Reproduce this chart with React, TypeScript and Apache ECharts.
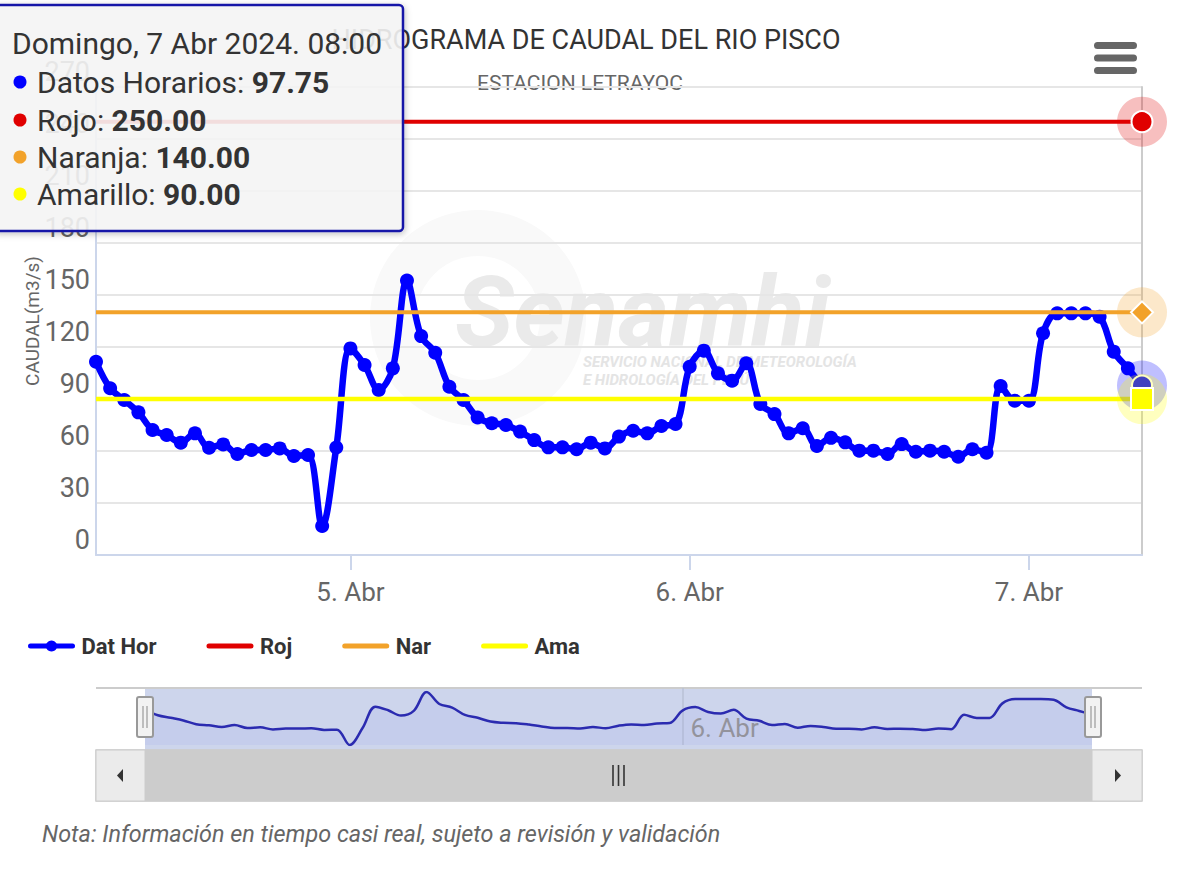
import React, { useEffect, useRef } from "react";
import * as echarts from "echarts";

const FONT = "Roboto, 'Noto Sans', sans-serif";
const HOUR_MS = 3600 * 1000;
const START_TIME = Date.UTC(2024, 3, 4, 6, 0, 0);

// Hourly discharge (m3/s), 4 Abr 06:00 .. 7 Abr 08:00
const datosHorarios: number[] = [
  111.5, 96.2, 89.4, 82.3, 72.1, 69.2, 64.8, 70.2, 61.9, 63.8,
  58.3, 60.6, 60.6, 61.5, 57.1, 57.7, 16.7, 62.0, 119.2, 109.6,
  95.2, 107.7, 158.3, 126.3, 116.7, 97.1, 89.4, 79.3, 76.0, 75.0,
  71.2, 66.3, 62.1, 62.1, 61.0, 64.8, 61.5, 68.3, 71.7, 70.2,
  74.4, 75.6, 108.6, 117.9, 104.8, 100.6, 110.6, 87.1, 81.3, 70.2,
  73.1, 62.9, 67.6, 65.0, 60.2, 60.2, 58.3, 64.0, 59.6, 60.2,
  59.6, 56.7, 61.0, 59.0, 97.5, 89.0, 89.0, 127.9, 139.4, 139.4,
  139.4, 137.5, 117.3, 107.7, 97.75,
];
const horas: number[] = datosHorarios.map((_, i) => START_TIME + i * HOUR_MS);

const umbralRojo = 250;
const umbralNaranja = 140;
const umbralAmarillo = 90;

const dayTicks: number[] = [Date.UTC(2024, 3, 5), Date.UTC(2024, 3, 6), Date.UTC(2024, 3, 7)];
const navigatorTicks: number[] = [Date.UTC(2024, 3, 6)];
const yMin = 0;
const yMax = 270;
const yInterval = 30;

const dias = ["Domingo", "Lunes", "Martes", "Miércoles", "Jueves", "Viernes", "Sábado"];
const meses = ["Ene", "Feb", "Mar", "Abr", "May", "Jun", "Jul", "Ago", "Set", "Oct", "Nov", "Dic"];

const seriesNames = ["Datos Horarios", "Rojo", "Naranja", "Amarillo"];
const legendNames = ["Dat Hor", "Roj", "Nar", "Ama"];
const colors = ["#0000ff", "#e00000", "#f2a22a", "#ffff00"];

const pad2 = (n: number) => (n < 10 ? "0" + n : "" + n);
const dayLabel = (v: number) => {
  const d = new Date(v);
  return `${d.getUTCDate()}. ${meses[d.getUTCMonth()]}`;
};

export default function App() {
  const ref = useRef<HTMLDivElement | null>(null);

  useEffect(() => {
    document.body.style.margin = "0";
    if (!ref.current) return;
    const chart = echarts.init(ref.current, null, { renderer: "svg" });

    const last = horas.length - 1;
    const tLast = horas[last];
    const dLast = new Date(tLast);
    const header = `${dias[dLast.getUTCDay()]}, ${dLast.getUTCDate()} ${meses[dLast.getUTCMonth()]} ${dLast.getUTCFullYear()}. ${pad2(dLast.getUTCHours())}:${pad2(dLast.getUTCMinutes())}`;
    const tipValues = [datosHorarios[last], umbralRojo, umbralNaranja, umbralAmarillo];

    const lineOf = (v: number) => horas.map((t) => [t, v]);
    const mainData = horas.map((t, i) => [t, datosHorarios[i]]);

    const halo = (name: string, value: number, color: string) => ({
      type: "scatter",
      name,
      xAxisIndex: 0,
      yAxisIndex: 0,
      silent: true,
      symbol: "circle",
      symbolSize: 50,
      data: [[tLast, value]],
      itemStyle: { color, opacity: 1 },
      z: 5,
    });
    const marker = (name: string, value: number, symbol: string, size: number, color: string) => ({
      type: "scatter",
      name,
      xAxisIndex: 0,
      yAxisIndex: 0,
      silent: true,
      symbol,
      symbolSize: size,
      data: [[tLast, value]],
      itemStyle: { color, borderColor: "#ffffff", borderWidth: 2, opacity: 1 },
      z: 5,
    });

    const TZ = 100;
    const tipLineY = [82, 120, 157, 194];
    const tooltipChildren: any[] = [
      {
        type: "rect",
        z: TZ,
        shape: { x: -6, y: 5, width: 409, height: 226, r: 4 },
        style: {
          fill: "rgba(247,247,247,0.88)",
          stroke: "#1818a8",
          lineWidth: 2.5,
          shadowBlur: 6,
          shadowOffsetX: 1,
          shadowOffsetY: 2,
          shadowColor: "rgba(0,0,0,0.25)",
        },
      },
      {
        type: "text",
        z: TZ + 1,
        x: 12,
        y: 43,
        style: {
          text: header,
          font: `30px ${FONT}`,
          fill: "#333333",
          textVerticalAlign: "middle",
          verticalAlign: "middle",
        },
      },
    ];
    seriesNames.forEach((n, i) => {
      tooltipChildren.push({
        type: "circle",
        z: TZ + 1,
        shape: { cx: 20, cy: tipLineY[i], r: 6.5 },
        style: { fill: colors[i] },
      });
      tooltipChildren.push({
        type: "text",
        z: TZ + 1,
        x: 37,
        y: tipLineY[i],
        style: {
          text: `{n|${n}: }{v|${tipValues[i].toFixed(2)}}`,
          textVerticalAlign: "middle",
          verticalAlign: "middle",
          rich: {
            n: { fontSize: 30, fontFamily: FONT, fill: "#333333", color: "#333333" },
            v: { fontSize: 30, fontFamily: FONT, fontWeight: "bold", fill: "#333333", color: "#333333" },
          },
        },
      });
    });

    const graphics: any[] = [
      // watermark
      {
        type: "ring",
        z: -2,
        silent: true,
        shape: { cx: 478, cy: 318, r: 108, r0: 62 },
        style: { fill: "#f9f9f9" },
      },
      {
        type: "text",
        z: -1,
        silent: true,
        x: 455,
        y: 312,
        style: {
          text: "Senamhi",
          font: `italic bold 98px ${FONT}`,
          fill: "#eaeaea",
          textVerticalAlign: "middle",
          verticalAlign: "middle",
        },
      },
      {
        type: "text",
        z: -1,
        silent: true,
        x: 583,
        y: 362,
        style: {
          text: "SERVICIO NACIONAL DE METEOROLOGÍA",
          font: `italic bold 15px ${FONT}`,
          fill: "#e4e4e4",
          textVerticalAlign: "middle",
          verticalAlign: "middle",
        },
      },
      {
        type: "text",
        z: -1,
        silent: true,
        x: 583,
        y: 380,
        style: {
          text: "E HIDROLOGÍA DEL PERÚ",
          font: `italic bold 15px ${FONT}`,
          fill: "#e4e4e4",
          textVerticalAlign: "middle",
          verticalAlign: "middle",
        },
      },
      // titles
      {
        type: "text",
        x: 586,
        y: 40,
        style: {
          text: "HIDROGRAMA DE CAUDAL DEL RIO PISCO",
          font: `27px ${FONT}`,
          fill: "#333333",
          textAlign: "center",
          align: "center",
          textVerticalAlign: "middle",
          verticalAlign: "middle",
        },
      },
      {
        type: "text",
        x: 580,
        y: 83,
        style: {
          text: "ESTACION LETRAYOC",
          font: `21px ${FONT}`,
          fill: "#666666",
          textAlign: "center",
          align: "center",
          textVerticalAlign: "middle",
          verticalAlign: "middle",
        },
      },
      // menu icon
      ...[42, 54.5, 67].map((y) => ({
        type: "rect",
        shape: { x: 1094, y, width: 43, height: 7, r: 3.5 },
        style: { fill: "#666666" },
      })),
      // navigator mask and outline
      {
        type: "rect",
        z: -1,
        silent: true,
        shape: { x: 145, y: 688, width: 947, height: 62 },
        style: { fill: "#cdd5ec" },
      },
      {
        type: "line",
        shape: { x1: 96, y1: 688, x2: 1142, y2: 688 },
        style: { stroke: "#cccccc", lineWidth: 2 },
      },
      // handles
      ...[145, 1093].map((cx) => ({
        type: "group",
        children: [
          {
            type: "rect",
            z: 10,
            shape: { x: cx - 8, y: 697, width: 16, height: 40, r: 2 },
            style: { fill: "#f2f2f2", stroke: "#999999", lineWidth: 2 },
          },
          {
            type: "line",
            z: 11,
            shape: { x1: cx - 2, y1: 706, x2: cx - 2, y2: 728 },
            style: { stroke: "#999999", lineWidth: 1.2 },
          },
          {
            type: "line",
            z: 11,
            shape: { x1: cx + 2, y1: 706, x2: cx + 2, y2: 728 },
            style: { stroke: "#999999", lineWidth: 1.2 },
          },
        ],
      })),
      // scrollbar
      {
        type: "rect",
        shape: { x: 96, y: 750, width: 1046, height: 51 },
        style: { fill: "#f2f2f2", stroke: "#cccccc", lineWidth: 1.5 },
      },
      {
        type: "rect",
        shape: { x: 145, y: 750, width: 947, height: 51 },
        style: { fill: "#cccccc", stroke: "#cccccc", lineWidth: 1 },
      },
      {
        type: "rect",
        shape: { x: 96, y: 750, width: 49, height: 51 },
        style: { fill: "#ebebeb", stroke: "#cccccc", lineWidth: 1 },
      },
      {
        type: "rect",
        shape: { x: 1092, y: 750, width: 50, height: 51 },
        style: { fill: "#ebebeb", stroke: "#cccccc", lineWidth: 1 },
      },
      {
        type: "polygon",
        shape: { points: [[123, 769], [117, 775.5], [123, 782]] },
        style: { fill: "#333333" },
      },
      {
        type: "polygon",
        shape: { points: [[1115, 769], [1121, 775.5], [1115, 782]] },
        style: { fill: "#333333" },
      },
      ...[613, 618.5, 624].map((x) => ({
        type: "line",
        shape: { x1: x, y1: 765, x2: x, y2: 786 },
        style: { stroke: "#333333", lineWidth: 1.6 },
      })),
      // note
      {
        type: "text",
        x: 42,
        y: 834,
        style: {
          text: "Nota: Información en tiempo casi real, sujeto a revisión y validación",
          font: `italic 23.4px ${FONT}`,
          fill: "#666666",
          textVerticalAlign: "middle",
          verticalAlign: "middle",
        },
      },
      // tooltip
      { type: "group", z: TZ, children: tooltipChildren },
    ];

    const hiddenSymbol = { opacity: 0 };
    const option: any = {
      animation: false,
      backgroundColor: "#ffffff",
      textStyle: { fontFamily: FONT },
      grid: [
        { left: 96, top: 87, width: 1046, height: 468 },
        { left: 145, top: 692, width: 947, height: 53 },
      ],
      legend: {
        data: [
          { name: legendNames[0] },
          { name: legendNames[1], itemStyle: hiddenSymbol },
          { name: legendNames[2], itemStyle: hiddenSymbol },
          { name: legendNames[3], itemStyle: hiddenSymbol },
        ],
        left: 28,
        top: 635,
        padding: 0,
        itemWidth: 42,
        itemHeight: 14,
        itemGap: 50,
        textStyle: { fontSize: 22, fontWeight: "bold", color: "#333333", padding: [0, 0, 0, 4], fontFamily: FONT },
        lineStyle: { width: 5, cap: "round" },
      },
      xAxis: [
        {
          type: "value",
          gridIndex: 0,
          min: horas[0],
          max: tLast,
          axisLine: { show: true, lineStyle: { color: "#ccd6eb", width: 2 } },
          axisTick: { show: true, customValues: dayTicks, length: 15, lineStyle: { color: "#ccd6eb", width: 2 } },
          axisLabel: { customValues: dayTicks, formatter: dayLabel, fontSize: 26, color: "#666666", margin: 24, fontFamily: FONT },
          splitLine: { show: false },
        },
        {
          type: "value",
          gridIndex: 1,
          min: horas[0],
          max: tLast,
          axisLine: { show: false },
          axisTick: { show: true, inside: true, customValues: navigatorTicks, length: 57, lineStyle: { color: "#b9c0d6", width: 1.5 } },
          axisLabel: {
            inside: true,
            customValues: navigatorTicks,
            formatter: dayLabel,
            align: "left",
            padding: [0, 0, 0, 8],
            margin: 4,
            fontSize: 26,
            color: "#999999",
            fontFamily: FONT,
          },
          splitLine: { show: false },
        },
      ],
      yAxis: [
        {
          type: "value",
          gridIndex: 0,
          min: yMin,
          max: yMax,
          interval: yInterval,
          name: "CAUDAL(m3/s)",
          nameLocation: "middle",
          nameGap: 54,
          nameMoveOverlap: false,
          nameRotate: 90,
          nameTextStyle: { fontSize: 19, color: "#666666", fontFamily: FONT },
          axisLine: { show: true, lineStyle: { color: "#ccd6eb", width: 2 } },
          axisTick: { show: false },
          axisLabel: { fontSize: 27, color: "#666666", margin: 6, verticalAlign: "bottom", padding: [0, 0, 2, 0], fontFamily: FONT },
          splitLine: { show: true, lineStyle: { color: "#e6e6e6", width: 2 } },
        },
        {
          type: "value",
          gridIndex: 0,
          position: "right",
          min: yMin,
          max: yMax,
          interval: yInterval,
          axisLine: { show: true, lineStyle: { color: "#cccccc", width: 2 } },
          axisTick: { show: false },
          axisLabel: { show: false },
          splitLine: { show: false },
        },
        {
          type: "value",
          gridIndex: 1,
          min: "dataMin",
          max: "dataMax",
          show: false,
          splitLine: { show: false },
        },
      ],
      series: [
        {
          type: "line",
          name: legendNames[0],
          xAxisIndex: 0,
          yAxisIndex: 0,
          data: mainData,
          smooth: 0.35,
          symbol: "circle",
          symbolSize: 14,
          showSymbol: true,
          lineStyle: { color: colors[0], width: 6.5 },
          itemStyle: { color: colors[0] },
          z: 2,
        },
        {
          type: "line",
          name: legendNames[1],
          xAxisIndex: 0,
          yAxisIndex: 0,
          data: lineOf(umbralRojo),
          symbol: "none",
          lineStyle: { color: colors[1], width: 4 },
          itemStyle: { color: colors[1] },
          z: 3,
        },
        {
          type: "line",
          name: legendNames[2],
          xAxisIndex: 0,
          yAxisIndex: 0,
          data: lineOf(umbralNaranja),
          symbol: "none",
          lineStyle: { color: colors[2], width: 4 },
          itemStyle: { color: colors[2] },
          z: 3,
        },
        {
          type: "line",
          name: legendNames[3],
          xAxisIndex: 0,
          yAxisIndex: 0,
          data: lineOf(umbralAmarillo),
          symbol: "none",
          lineStyle: { color: colors[3], width: 4.5 },
          itemStyle: { color: colors[3] },
          z: 3,
        },
        {
          type: "line",
          name: "navigator",
          xAxisIndex: 1,
          yAxisIndex: 2,
          data: mainData,
          smooth: 0.35,
          symbol: "none",
          silent: true,
          lineStyle: { color: "#2b2bb0", width: 2.5 },
          areaStyle: { color: "rgba(0,0,255,0.05)" },
        },
        halo("haloDatos", datosHorarios[last], "rgba(0,0,255,0.25)"),
        marker("markDatos", datosHorarios[last], "circle", 20, colors[0]),
        halo("haloRojo", umbralRojo, "rgba(225,0,0,0.25)"),
        marker("markRojo", umbralRojo, "circle", 21, colors[1]),
        halo("haloNaranja", umbralNaranja, "rgba(242,162,42,0.25)"),
        marker("markNaranja", umbralNaranja, "diamond", 22, colors[2]),
        halo("haloAmarillo", umbralAmarillo, "rgba(255,255,0,0.25)"),
        marker("markAmarillo", umbralAmarillo, "rect", 22, colors[3]),
      ],
      graphic: graphics,
    };

    chart.setOption(option);
    return () => {
      chart.dispose();
    };
  }, []);

  return (
    <div
      ref={ref}
      style={{ position: "absolute", left: 0, top: 0, width: 1200, height: 884, background: "#ffffff" }}
    />
  );
}
